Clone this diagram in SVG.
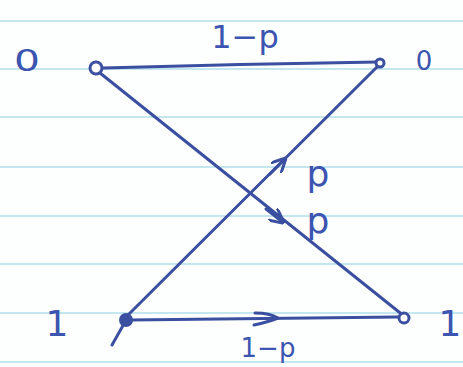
<svg xmlns="http://www.w3.org/2000/svg" width="463" height="367" viewBox="0 0 463 367">
<style>
.rule{stroke:#c4e6ee;stroke-width:2}
.edge{stroke:#3b4fa0;stroke-width:3;fill:none;stroke-linecap:round}
.node{stroke:#3b4fa0;stroke-width:3;fill:#fff}
.lbl{font-family:"DejaVu Sans",sans-serif;fill:#3b55b0}
</style>
<defs>
<marker id="ah" viewBox="0 0 10 10" refX="8" refY="5" markerWidth="5" markerHeight="5" orient="auto" markerUnits="strokeWidth">
<path d="M0,0 L10,5 L0,10" fill="none" stroke="#3b4fa0" stroke-width="2"/>
</marker>
</defs>
<rect width="463" height="367" fill="#fdfefe"/>
<g id="paper">
<line class="rule" x1="0" y1="21" x2="463" y2="21"/>
<line class="rule" x1="0" y1="69" x2="463" y2="69"/>
<line class="rule" x1="0" y1="117" x2="463" y2="117"/>
<line class="rule" x1="0" y1="167" x2="463" y2="167"/>
<line class="rule" x1="0" y1="216" x2="463" y2="216"/>
<line class="rule" x1="0" y1="264" x2="463" y2="264"/>
<line class="rule" x1="0" y1="313" x2="463" y2="313"/>
<line class="rule" x1="0" y1="362" x2="463" y2="362"/>
</g>
<g id="connectors">
<path class="edge" d="M103,68 Q240,64 378,62"/>
<path class="edge" d="M100,73 L404,316"/>
<path class="edge" d="M125,318 L379,65"/>
<path class="edge" d="M130,320 Q260,318 398,317"/>
<path class="edge" d="M125,322 L112,345"/>
<path class="edge" d="M270,174 L284,160" marker-end="url(#ah)"/>
<path class="edge" d="M266,209 L282,221.5" marker-end="url(#ah)"/>
<path class="edge" d="M255,313 Q270,313 278,318 Q268,322 254,325"/>
</g>
<g id="n0_in"><circle class="node" cx="96" cy="68" r="6"/></g>
<g id="n0_out"><circle class="node" cx="380" cy="63" r="4"/></g>
<g id="n1_in"><circle cx="126" cy="320" r="7" fill="#3b4fa0"/></g>
<g id="n1_out"><circle class="node" cx="404" cy="318" r="5"/></g>
<g id="labels">
<text class="lbl" x="27" y="72" font-size="34" text-anchor="middle" transform="translate(27 60) scale(1.2 0.9) translate(-27 -60)">0</text>
<text class="lbl" x="424" y="70" font-size="26" text-anchor="middle">0</text>
<text class="lbl" x="245" y="48" font-size="32" text-anchor="middle">1−p</text>
<text class="lbl" x="318" y="186" font-size="36" text-anchor="middle">p</text>
<text class="lbl" x="318" y="233" font-size="36" text-anchor="middle">p</text>
<text class="lbl" x="57" y="336" font-size="36" text-anchor="middle">1</text>
<text class="lbl" x="450" y="336" font-size="36" text-anchor="middle">1</text>
<text class="lbl" x="268" y="357" font-size="26" text-anchor="middle">1−p</text>
</g>
</svg>
